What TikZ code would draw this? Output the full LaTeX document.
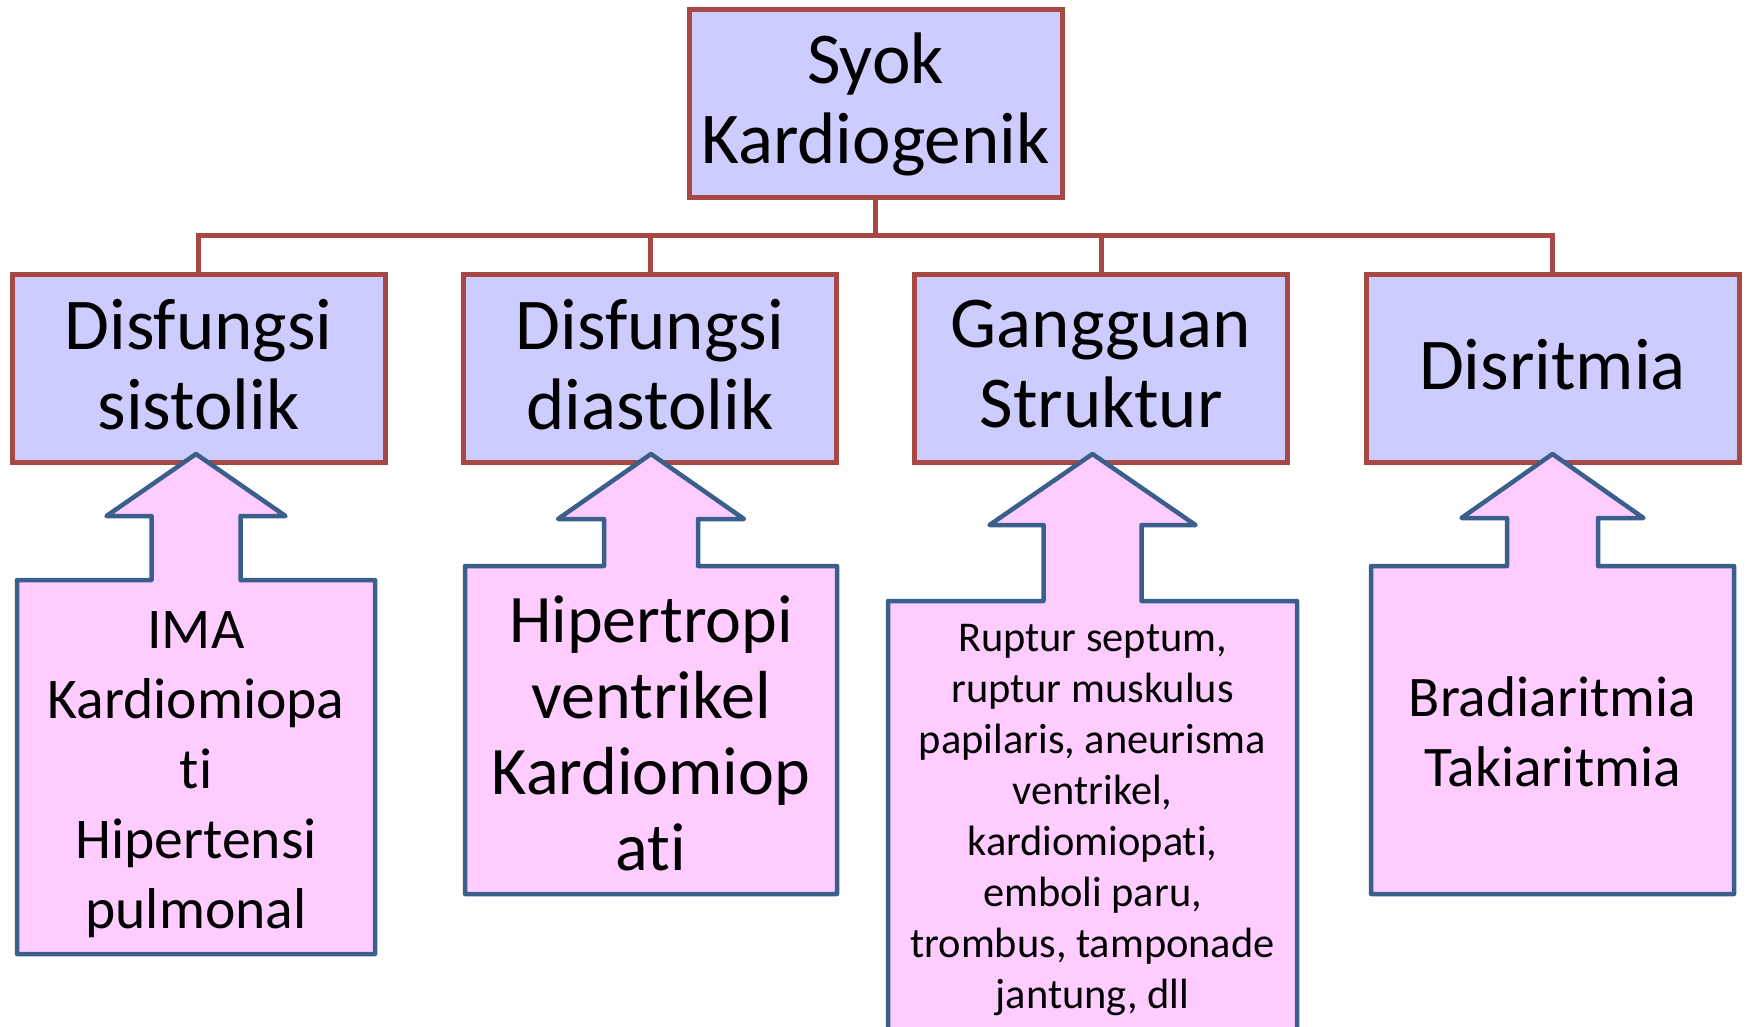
\documentclass[tikz,border=0pt]{standalone}
\usepackage{fontspec}
\setmainfont{Carlito}[Ligatures=NoCommon]
\definecolor{boxblue}{HTML}{CCCCFF}
\definecolor{boxred}{HTML}{A84844}
\definecolor{calloutpink}{HTML}{FFCCFF}
\definecolor{calloutblue}{HTML}{3A5F8A}
\tikzset{
  topbox/.style={draw=boxred, fill=boxblue, line width=2.5pt, minimum width=186.5pt,
    minimum height=94pt, align=center, inner sep=0pt, font=\fontsize{36.5}{40}\selectfont},
  catbox/.style={topbox, text depth=4.5pt},
  link/.style={draw=boxred, line width=2.5pt},
  callout/.style={draw=calloutblue, fill=calloutpink, line width=2.25pt, line join=round},
  inbox/.style={align=center, inner sep=0pt}
}

\begin{document}
\begin{tikzpicture}[x=0.5pt, y=-0.5pt]
    \clip (0,0) rectangle (1745,1027);
    \node[topbox] (syok) at (875.5,104) {Syok\\Kardiogenik};
    \foreach \name/\x/\txt in {sis/198.5/{Disfungsi\\sistolik}, dia/650/{Disfungsi\\diastolik},
        str/1101/{Gangguan\\Struktur}, dis/1552.5/{Disritmia}} {
      \node[catbox] (\name) at (\x,368.5) {\txt};
    }
    \coordinate (bus) at (0,236);
    \draw[link] (syok.south) -- (syok.south |- bus);
    \draw[link] (sis.north) |- (dis.north |- bus) -- (dis.north);
    \draw[link] (dia.north) -- (dia.north |- bus);
    \draw[link] (str.north) -- (str.north |- bus);
    % arrow callouts: centre, half width, top, bottom, head base, half shaft, half head
    \foreach \cx/\hw/\ty/\by/\hy/\sw/\hh in {196/179/580/954/516/44.5/89.5,
        651/186/566/894/519/47/93, 1092.5/204.5/601/1040/525/49/103,
        1552.5/181.5/566/894/518/45.5/91} {
      \draw[callout] ({\cx-\hw},\by) -- ({\cx-\hw},\ty) -- ({\cx-\sw},\ty) -- ({\cx-\sw},\hy)
        -- ({\cx-\hh},\hy) -- (\cx,454) -- ({\cx+\hh},\hy) -- ({\cx+\sw},\hy) -- ({\cx+\sw},\ty)
        -- ({\cx+\hw},\ty) -- ({\cx+\hw},\by) -- cycle;
    }
    \node[inbox, font=\fontsize{28.8}{35}\selectfont] (ima) at (196,774.5)
      {IMA\\Kardiomiopa\\ti\\Hipertensi\\pulmonal};
    \node[inbox, font=\fontsize{34}{38}\selectfont] (hip) at (651,733)
      {Hipertropi\\ventrikel\\Kardiomiop\\ati};
    \node[inbox, font=\fontsize{21.2}{25.5}\selectfont] (rup) at (1092.5,820.5)
      {Ruptur septum,\\ruptur muskulus\\papilaris, aneurisma\\ventrikel,\\kardiomiopati,\\emboli paru,\\trombus, tamponade\\jantung, dll};
    \node[inbox, font=\fontsize{28.7}{35}\selectfont] (bra) at (1552.5,732)
      {Bradiaritmia\\Takiaritmia};
  \end{tikzpicture}
\end{document}
